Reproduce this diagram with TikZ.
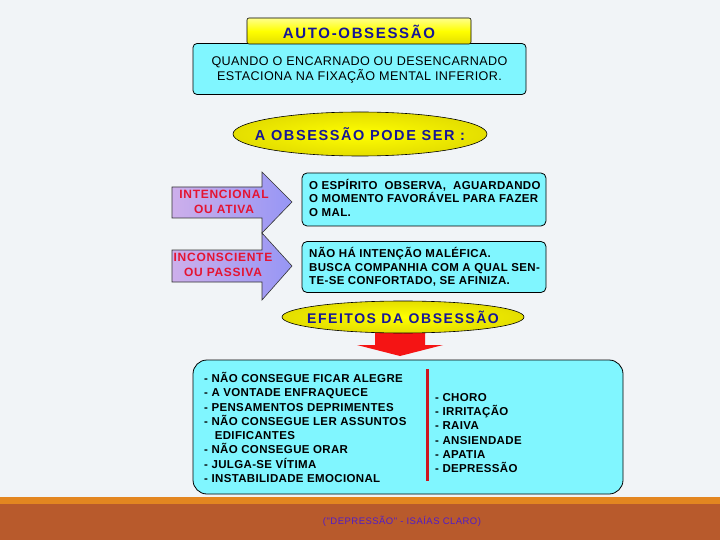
\documentclass[tikz,border=0pt]{standalone}
\usepackage{fontspec}
\setmainfont{Liberation Sans}
\newfontfamily\headfont[LetterSpace=11]{Liberation Sans}
\newfontfamily\bodyfont[LetterSpace=3]{Liberation Sans}
\newfontfamily\arrfont[LetterSpace=6]{Liberation Sans}
\newfontfamily\topfont[LetterSpace=3]{Liberation Sans}
\newfontfamily\citefont[LetterSpace=5]{Liberation Sans}
\usetikzlibrary{shapes.geometric}
\definecolor{bgc}{RGB}{241,244,247}
\definecolor{cyanbox}{RGB}{128,246,255}
\definecolor{ttl}{RGB}{22,22,150}
\definecolor{yel}{RGB}{255,255,0}
\definecolor{yeldark}{RGB}{228,222,0}
\definecolor{yellight}{RGB}{255,255,140}
\definecolor{arrred}{RGB}{228,20,50}
\definecolor{lavl}{RGB}{205,175,235}
\definecolor{lavr}{RGB}{150,150,245}
\definecolor{redarrow}{RGB}{245,20,20}
\definecolor{redline}{RGB}{205,20,30}
\definecolor{barorange}{RGB}{227,134,32}
\definecolor{barbrown}{RGB}{184,90,44}
\definecolor{cite}{RGB}{80,30,200}
\tikzset{
  cbox/.style={draw=black, line width=0.8pt, fill=cyanbox, inner sep=0pt},
  yellipse/.style={ellipse, draw=black, line width=0.6pt, inner sep=0pt,
    shading=radial, inner color=yel, outer color=yeldark},
  headtxt/.style={font=\headfont\bfseries\fontsize{14}{16}\selectfont, text=ttl},
  bodytxt/.style={font=\bodyfont\bfseries\fontsize{11.5}{13.6}\selectfont, align=left, anchor=north west, inner sep=0pt},
  efftxt/.style={font=\bodyfont\bfseries\fontsize{11.5}{14.3}\selectfont, align=left, anchor=north west, inner sep=0pt},
  arrtxt/.style={font=\arrfont\bfseries\fontsize{12}{14.5}\selectfont, text=arrred, align=center},
  bigarrow/.style={draw=black!80, line width=0.6pt, left color=lavl, right color=lavr}
}
\begin{document}
\begin{tikzpicture}[x=1pt,y=-1pt]
\useasboundingbox (0,0) rectangle (720,540);
\fill[bgc] (0,0) rectangle (720,540);

% top cyan box
\node[cbox, rounded corners=4pt, minimum width=333pt, minimum height=51pt] (def) at (359.5,69) {};
\node[font=\topfont\fontsize{12.6}{14.5}\selectfont, align=center] (deftxt) at (359.5,70)
  {QUANDO O ENCARNADO OU DESENCARNADO\\ESTACIONA NA FIXAÇÃO MENTAL INFERIOR.};

% title
\node[draw=black, line width=0.6pt, rounded corners=2pt, top color=yellight, bottom color=yeldark,
  middle color=yel, minimum width=224pt, minimum height=26pt, inner sep=0pt] (title) at (359,31) {};
\node[headtxt, font=\headfont\bfseries\fontsize{15}{17}\selectfont] (titletxt) at (359,31.5) {AUTO-OBSESSÃO};

% ellipse 1
\node[yellipse, minimum width=254pt, minimum height=44pt] (ell1) at (360,134) {};
\node[headtxt, font=\headfont\bfseries\fontsize{14.5}{16}\selectfont] (ell1txt) at (360,134) {A OBSESSÃO PODE SER :};

% arrows
\path[bigarrow] (172,187) -- (262,187) -- (262,172) -- (292,202) -- (262,233) -- (262,218) -- (172,218) -- cycle;
\node[arrtxt] (arr1) at (224,202) {INTENCIONAL\\OU ATIVA};
\path[bigarrow] (172,250) -- (262,250) -- (262,233) -- (292,266) -- (262,300) -- (262,282) -- (172,282) -- cycle;
\node[arrtxt] (arr2) at (223,265) {INCONSCIENTE\\OU PASSIVA};

% cyan boxes 1 & 2
\node[cbox, rounded corners=5pt, minimum width=244pt, minimum height=53pt] (box1) at (424,199.5) {};
\node[bodytxt] (box1txt) at (309,179) {O ESPÍRITO \ OBSERVA, \ AGUARDANDO\\O MOMENTO FAVORÁVEL PARA FAZER\\O MAL.};
\node[cbox, rounded corners=5pt, minimum width=244pt, minimum height=51pt] (box2) at (424,267) {};
\node[bodytxt] (box2txt) at (309,247) {NÃO HÁ INTENÇÃO MALÉFICA.\\BUSCA COMPANHIA COM A QUAL SEN-\\TE-SE CONFORTADO, SE AFINIZA.};

% red down arrow
\fill[redarrow] (375,328) -- (425,328) -- (425,345) -- (443,345) -- (400,356) -- (357,345) -- (375,345) -- cycle;

% ellipse 2
\node[yellipse, minimum width=242pt, minimum height=32pt] (ell2) at (403,317) {};
\node[headtxt] (ell2txt) at (403,317) {EFEITOS DA OBSESSÃO};

% effects box
\node[cbox, rounded corners=14pt, minimum width=430pt, minimum height=134pt] (eff) at (408,427) {};
\node[efftxt] (effl) at (204,372) {- NÃO CONSEGUE FICAR ALEGRE\\- A VONTADE ENFRAQUECE\\- PENSAMENTOS DEPRIMENTES\\- NÃO CONSEGUE LER ASSUNTOS\\\ \ \ EDIFICANTES\\- NÃO CONSEGUE ORAR\\- JULGA-SE VÍTIMA\\- INSTABILIDADE EMOCIONAL};
\coordinate (sepa) at (427,369);
\coordinate (sepb) at (427,481);
\draw[redline, line width=3pt] (sepa) -- (sepb);
\node[efftxt] (effr) at (435,393) {- CHORO\\- IRRITAÇÃO\\- RAIVA\\- ANSIENDADE\\- APATIA\\- DEPRESSÃO};

% bottom bar
\fill[barorange] (0,497) rectangle (720,504);
\fill[barbrown] (0,504) rectangle (720,540);
\node[font=\citefont\fontsize{9.5}{11}\selectfont, text=cite] (cit) at (402,521) {("DEPRESSÃO" - ISAÍAS CLARO)};
\end{tikzpicture}
\end{document}
